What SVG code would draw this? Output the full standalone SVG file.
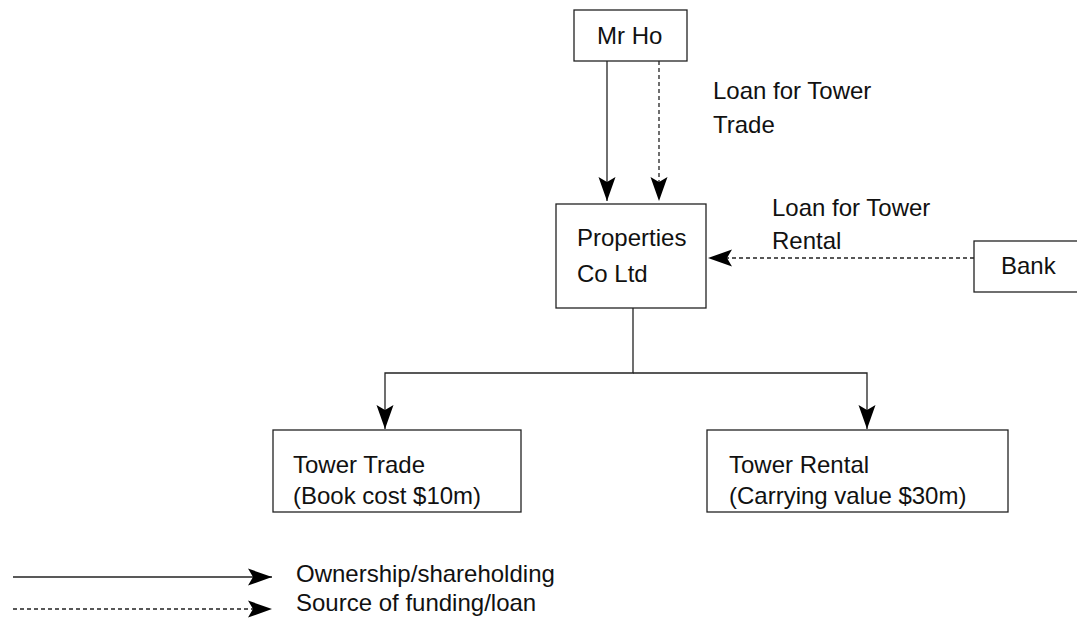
<svg xmlns="http://www.w3.org/2000/svg" width="1077" height="621" viewBox="0 0 1077 621">
<style>
.box{fill:#fff;stroke:#222;stroke-width:1.3}
.ln{fill:none;stroke:#222;stroke-width:1.3}
.dash{stroke-dasharray:4,3}
text{font-family:"Liberation Sans",Arial,sans-serif;font-size:24px;fill:#111}
</style>
<defs>
<marker id="ah" markerUnits="userSpaceOnUse" markerWidth="28" markerHeight="20" viewBox="0 -10 28 20" refX="24" refY="0" orient="auto">
<path d="M0,-8.5 L24,0 L0,8.5 L5,0 z" fill="#000"/>
</marker>
</defs>
<g id="connectors">
<line class="ln" x1="607" y1="61" x2="607" y2="201" marker-end="url(#ah)"/>
<line class="ln dash" x1="659" y1="61" x2="659" y2="201" marker-end="url(#ah)"/>
<line class="ln dash" x1="974" y1="258" x2="708" y2="258" marker-end="url(#ah)"/>
<polyline class="ln" points="633,308 633,373 385,373 385,429" marker-end="url(#ah)"/>
<polyline class="ln" points="633,373 867,373 867,429" marker-end="url(#ah)"/>
<text x="713" y="99">Loan for Tower</text>
<text x="713" y="133">Trade</text>
<text x="772" y="216">Loan for Tower</text>
<text x="772" y="249">Rental</text>
</g>
<g id="mrho">
<rect class="box" x="574" y="10" width="113" height="51"/>
<text x="597" y="44">Mr Ho</text>
</g>
<g id="properties">
<rect class="box" x="556" y="204" width="150" height="104"/>
<text x="577" y="246">Properties</text>
<text x="577" y="282">Co Ltd</text>
</g>
<g id="bank">
<rect class="box" x="974" y="241" width="120" height="51"/>
<text x="1001" y="274">Bank</text>
</g>
<g id="towertrade">
<rect class="box" x="273" y="430" width="248" height="82"/>
<text x="293" y="473">Tower Trade</text>
<text x="293" y="504">(Book cost $10m)</text>
</g>
<g id="towerrental">
<rect class="box" x="707" y="430" width="301" height="82"/>
<text x="729" y="473">Tower Rental</text>
<text x="729" y="504">(Carrying value $30m)</text>
</g>
<g id="legend">
<line class="ln" x1="13" y1="577" x2="272" y2="577" marker-end="url(#ah)"/>
<line class="ln dash" x1="13" y1="609" x2="272" y2="609" marker-end="url(#ah)"/>
<text x="296" y="582">Ownership/shareholding</text>
<text x="296" y="611">Source of funding/loan</text>
</g>
</svg>
